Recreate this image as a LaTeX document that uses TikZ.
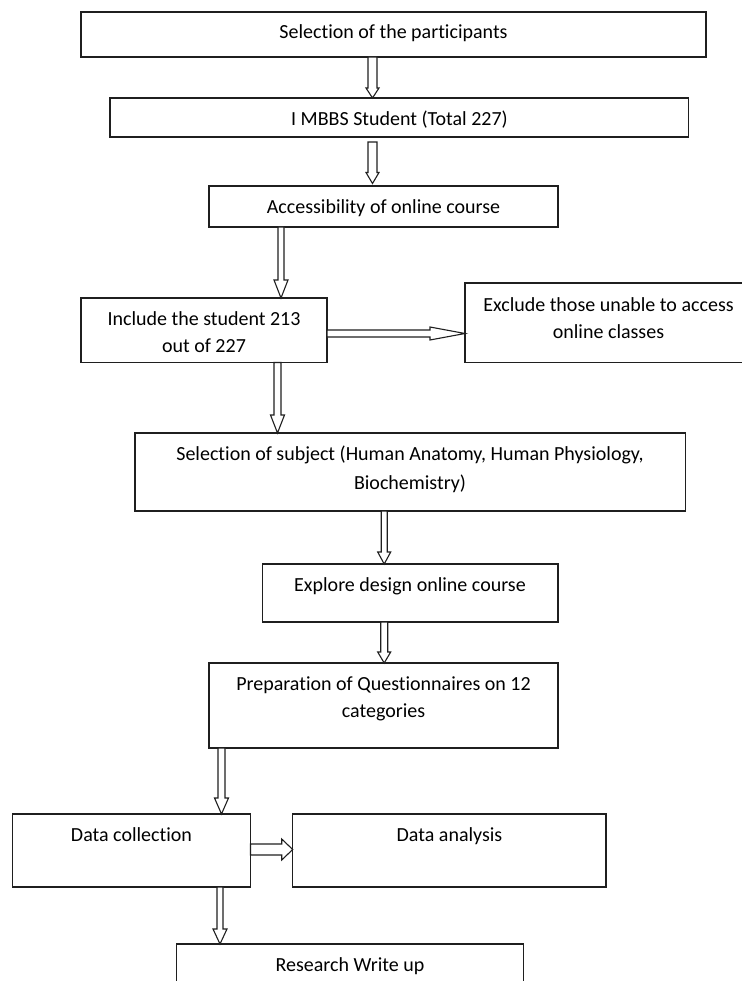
\documentclass[tikz,border=0pt]{standalone}
\usepackage{fontspec}
\setmainfont{Carlito}[Ligatures=NoCommon]
\usetikzlibrary{calc,fit}
\tikzset{
  box/.style={draw=black!88, line width=1.1pt, inner sep=0pt, outer sep=0pt},
  lbl/.style={anchor=base, inner sep=0pt, font=\fontsize{20}{24}\selectfont, text=black},
  barrow/.style={draw=black!88, line width=1.1pt, fill=white, line join=miter},
}
\newcommand\twoline[3]{{\renewcommand\arraystretch{#1}\begin{tabular}[t]{@{}c@{}}#2\\#3\end{tabular}}}
% vertical block arrow: #1 start, #2 tip, #3 half shaft, #4 half head, #5 head length
\newcommand\vblk[5]{%
  \draw[barrow] let \p1=(#1), \p2=(#2) in
   ({\x1-#3pt},\y1) -- ({\x1-#3pt},{\y2+#5pt}) -- ({\x1-#4pt},{\y2+#5pt}) -- (\x1,\y2)
   -- ({\x1+#4pt},{\y2+#5pt}) -- ({\x1+#3pt},{\y2+#5pt}) -- ({\x1+#3pt},\y1) -- cycle;}
% horizontal block arrow
\newcommand\hblk[5]{%
  \draw[barrow] let \p1=(#1), \p2=(#2) in
   (\x1,{\y1+#3pt}) -- ({\x2-#5pt},{\y1+#3pt}) -- ({\x2-#5pt},{\y1+#4pt}) -- (\x2,\y1)
   -- ({\x2-#5pt},{\y1-#4pt}) -- ({\x2-#5pt},{\y1-#3pt}) -- (\x1,{\y1-#3pt}) -- cycle;}
\begin{document}
\begin{tikzpicture}[x=1pt,y=-1pt]
\useasboundingbox[fill=white] (0,0) rectangle (741,981);
% boxes
\node[box, fit={(81,12) (706,57)}] (b1) {};
\node[box, fit={(110,98) (688.5,137)}] (b2) {};
\node[box, fit={(209,186) (558,227)}] (b3) {};
\node[box, fit={(81,298) (327,362.5)}] (b4) {};
\node[box, fit={(465,283) (752,362.5)}] (b5) {};
\node[box, fit={(135,433) (685.5,511)}] (b6) {};
\node[box, fit={(262.5,564) (558,622)}] (b7) {};
\node[box, fit={(209,663) (558,748)}] (b8) {};
\node[box, fit={(12.5,814) (250.5,887)}] (b9) {};
\node[box, fit={(292.7,814) (606,887)}] (b10) {};
\node[box, fit={(176.5,944) (523.7,1000)}] (b11) {};
% texts
\node[lbl] (t1) at (393.5,39) {Selection of the participants};
\node[lbl] (t2) at (399.5,126) {I MBBS Student (Total 227)};
\node[lbl] (t3) at (383.5,213.3) {Accessibility of online course};
\node[lbl] (t4) at (204,325) {\twoline{1.16}{Include the student 213}{out of 227}};
\node[lbl] (t5) at (608.5,311) {\twoline{1.15}{Exclude those unable to access}{online classes}};
\node[lbl] (t6) at (410,460) {\twoline{1.23}{Selection of subject (Human Anatomy, Human Physiology,}{Biochemistry)}};
\node[lbl] (t7) at (410,591.5) {Explore design online course};
\node[lbl] (t8) at (383.5,690) {\twoline{1.16}{Preparation of Questionnaires on 12}{categories}};
\node[lbl] (t9) at (131.5,841) {Data collection};
\node[lbl] (t10) at (449.5,841) {Data analysis};
\node[lbl] (t11) at (350,971) {Research Write up};
% arrow axes
\coordinate (c1) at (372.5,0);
\coordinate (c3) at (281,0);
\coordinate (c4) at (277.5,0);
\coordinate (c5) at (384.2,0);
\coordinate (c7) at (221.5,0);
\coordinate (c8) at (220,0);
\coordinate (r1) at (0,333.5);
\coordinate (r2) at (0,849.5);
\coordinate (a2s) at ($(b2.south -| c1)+(0,5)$);
\coordinate (a2e) at ($(b3.north -| c1)+(0,-2.5)$);
% arrows
\vblk{b1.south -| c1}{b2.north -| c1}{4.5}{6.5}{10}
\vblk{a2s}{a2e}{4.5}{6.5}{11}
\vblk{b3.south -| c3}{b4.north -| c3}{3}{7}{18}
\hblk{b4.east |- r1}{b5.west |- r1}{3.5}{6.5}{35}
\vblk{b4.south -| c4}{b6.north -| c4}{3.5}{7}{18}
\vblk{b6.south -| c5}{b7.north -| c5}{3}{6.5}{12}
\vblk{b7.south -| c5}{b8.north -| c5}{3.5}{6.5}{11}
\vblk{b8.south -| c7}{b9.north -| c7}{3.5}{7}{16}
\hblk{b9.east |- r2}{b10.west |- r2}{5.5}{10.5}{11}
\vblk{b9.south -| c8}{b11.north -| c8}{3}{7}{15}
\end{tikzpicture}
\end{document}
